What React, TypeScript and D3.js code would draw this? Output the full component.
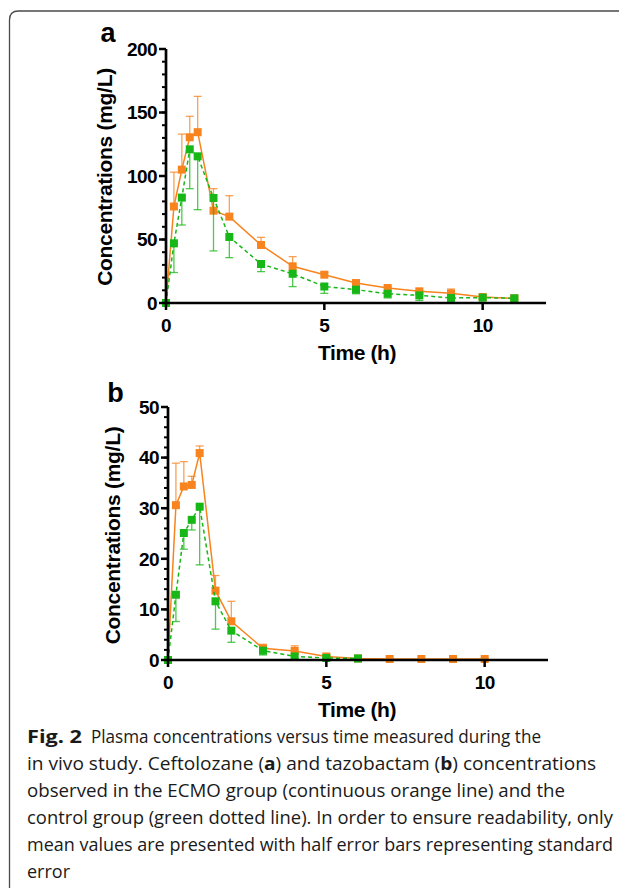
import React, { useRef, useEffect } from 'react';
import * as d3 from 'd3';

// Panel a: ceftolozane
const timesA = [0, 0.25, 0.5, 0.75, 1, 1.5, 2, 3, 4, 5, 6, 7, 8, 9, 10, 11];
const ecmoA = [0, 76, 105, 130.5, 134.5, 72.7, 68, 45.7, 28.9, 22.3, 15.7, 11.8, 9.2, 7.6, 4.7, 3.7];
const ecmoErrA = [0, 103, 133, 147, 162.7, 90, 84.5, 51.7, 36.5, 24, 17, 13, 10, 11, 5.5, 5];
const ctrlA = [0, 47, 83, 121, 115.5, 82.7, 52, 30.7, 23, 13, 10.5, 7.3, 6, 4, 4.2, 3.7];
const ctrlErrA = [0, 24, 61.4, 90, 73.5, 41, 35.7, 24.7, 12.9, 7.6, 7.3, 4, 2, 2, 3, 2.5];

// Panel b: tazobactam
const timesB = [0, 0.25, 0.5, 0.75, 1, 1.5, 2, 3, 4, 5, 6, 7, 8, 9, 10];
const ecmoB = [0, 30.6, 34.3, 34.6, 40.9, 13.7, 7.65, 2.3, 1.8, 0.7, 0.3, 0.2, 0.2, 0.2, 0.2];
const ecmoErrB = [0, 38.9, 39.2, 36.3, 42.3, 16.7, 11.6, 3.1, 2.8, 0.9, 0.4, 0.25, 0.25, 0.25, 0.25];
const timesB2 = [0, 0.25, 0.5, 0.75, 1, 1.5, 2, 3, 4, 5, 6];
const ctrlB = [0, 12.9, 25.1, 27.7, 30.3, 11.6, 5.8, 1.85, 0.7, 0.4, 0.3];
const ctrlErrB = [0, 7.6, 21.9, 25.7, 18.8, 6.1, 3.5, 1.0, 0.3, 0.2, 0.2];

const xTicks = [0, 5, 10];
const yTicksA = [0, 50, 100, 150, 200];
const yTicksB = [0, 10, 20, 30, 40, 50];

const captionLines = [
  'Plasma concentrations versus time measured during the',
  'in vivo study. Ceftolozane (a) and tazobactam (b) concentrations',
  'observed in the ECMO group (continuous orange line) and the',
  'control group (green dotted line). In order to ensure readability, only',
  'mean values are presented with half error bars representing standard',
  'error',
];

const ORANGE = '#f7841f';
const GREEN = '#17b717';

function drawPanel(svg, opt) {
  const { x0, x1, y0, y1, yMax, yTicks, minorStep, letter, letterPos, series } = opt;
  const x = d3.scaleLinear().domain([0, 12]).range([x0, x1]);
  const y = d3.scaleLinear().domain([0, yMax]).range([y0, y1]);
  const g = svg.append('g');
  const font = '"Liberation Sans", Arial, sans-serif';

  // series (orange first, green on top)
  series.forEach(s => {
    const pts = s.t.map((t, i) => [t, s.v[i], s.e[i]]);
    // half error bars
    pts.forEach(([t, v, e]) => {
      if (Math.abs(e - v) < 0.01) return;
      g.append('line')
        .attr('x1', x(t)).attr('x2', x(t))
        .attr('y1', y(v)).attr('y2', y(e))
        .attr('stroke', s.color).attr('stroke-width', 1.3).attr('opacity', 0.75);
      g.append('line')
        .attr('x1', x(t) - 4).attr('x2', x(t) + 4)
        .attr('y1', y(e)).attr('y2', y(e))
        .attr('stroke', s.color).attr('stroke-width', 1.3).attr('opacity', 0.75);
    });
    const line = d3.line().x(d => x(d[0])).y(d => y(d[1]));
    g.append('path')
      .attr('d', line(pts))
      .attr('fill', 'none')
      .attr('stroke', s.color)
      .attr('stroke-width', 1.5)
      .attr('stroke-dasharray', s.dash ? '4,3' : null);
    g.selectAll(null).data(pts).enter().append('rect')
      .attr('x', d => x(d[0]) - 4).attr('y', d => y(d[1]) - 4)
      .attr('width', 8).attr('height', 8)
      .attr('fill', s.color);
  });

  // y axis
  g.append('line').attr('x1', x0).attr('x2', x0).attr('y1', y0 + 1).attr('y2', y1)
    .attr('stroke', '#000').attr('stroke-width', 2.7);
  d3.range(0, yMax + 0.001, minorStep).forEach(v => {
    g.append('line').attr('x1', x0 - 4).attr('x2', x0).attr('y1', y(v)).attr('y2', y(v))
      .attr('stroke', '#000').attr('stroke-width', 2);
  });
  yTicks.forEach(v => {
    g.append('line').attr('x1', x0 - 7).attr('x2', x0).attr('y1', y(v)).attr('y2', y(v))
      .attr('stroke', '#000').attr('stroke-width', 2.5);
    g.append('text').attr('x', x0 - 9).attr('y', y(v)).attr('dy', '0.36em')
      .attr('text-anchor', 'end').attr('font-family', font).attr('font-weight', 'bold')
      .attr('font-size', 19).attr('letter-spacing', -0.6).text(v);
  });

  // x axis
  g.append('line').attr('x1', x0 - 1).attr('x2', x1).attr('y1', y0).attr('y2', y0)
    .attr('stroke', '#000').attr('stroke-width', 2.7);
  xTicks.forEach(t => {
    g.append('line').attr('x1', x(t)).attr('x2', x(t)).attr('y1', y0).attr('y2', y0 + 7)
      .attr('stroke', '#000').attr('stroke-width', 2.5);
    g.append('text').attr('x', x(t)).attr('y', y0 + 29)
      .attr('text-anchor', 'middle').attr('font-family', font).attr('font-weight', 'bold')
      .attr('font-size', 19).attr('letter-spacing', -0.6).text(t);
  });

  g.append('text').attr('x', 357).attr('y', y0 + 57)
    .attr('text-anchor', 'middle').attr('font-family', font).attr('font-weight', 'bold')
    .attr('font-size', 21).attr('letter-spacing', -0.4).text('Time (h)');

  const yMid = (y0 + y1) / 2 + opt.labelShift;
  g.append('text').attr('transform', `translate(${opt.labelX},${yMid}) rotate(-90)`)
    .attr('text-anchor', 'middle').attr('font-family', font).attr('font-weight', 'bold')
    .attr('font-size', 21).attr('letter-spacing', -0.3).text('Concentrations (mg/L)');

  g.append('text').attr('x', letterPos[0]).attr('y', letterPos[1])
    .attr('text-anchor', 'middle').attr('font-family', font).attr('font-weight', 'bold')
    .attr('font-size', 27).text(letter);
}

const App = () => {
  const svgRef = useRef(null);

  useEffect(() => {
    const svg = d3.select(svgRef.current);
    svg.selectAll('*').remove();

    // frame
    svg.append('path')
      .attr('d', 'M 9.5 888 L 9.5 20 Q 9.5 11 18.5 11 L 619 11')
      .attr('fill', 'none').attr('stroke', '#4a4a4a').attr('stroke-width', 1.3);

    drawPanel(svg, {
      x0: 166, x1: 546, y0: 303, y1: 49, yMax: 200, yTicks: yTicksA, minorStep: 10,
      letter: 'a', letterPos: [108, 42], labelX: 112, labelShift: 1,
      series: [
        { t: timesA, v: ecmoA, e: ecmoErrA, color: ORANGE, dash: false },
        { t: timesA, v: ctrlA, e: ctrlErrA, color: GREEN, dash: true },
      ],
    });
    drawPanel(svg, {
      x0: 168, x1: 548, y0: 660, y1: 407, yMax: 50, yTicks: yTicksB, minorStep: 2,
      letter: 'b', letterPos: [115.5, 402], labelX: 120, labelShift: 2,
      series: [
        { t: timesB, v: ecmoB, e: ecmoErrB, color: ORANGE, dash: false },
        { t: timesB2, v: ctrlB, e: ctrlErrB, color: GREEN, dash: true },
      ],
    });

    // caption
    const cap = svg.append('g').attr('font-family', '"Open Sans", "Noto Sans", sans-serif')
      .attr('font-size', 18).attr('fill', '#1a1a1a');
    const widths = [450, 569, 538, 586, 586, 43];
    captionLines.forEach((line, i) => {
      const yb = 743 + i * 27;
      if (i === 0) {
        cap.append('text').attr('x', 27).attr('y', yb).attr('font-weight', 'bold')
          .attr('textLength', 55).attr('lengthAdjust', 'spacingAndGlyphs').text('Fig. 2');
        cap.append('text').attr('x', 91).attr('y', yb)
          .attr('textLength', widths[0]).attr('lengthAdjust', 'spacingAndGlyphs').text(line);
        return;
      }
      const t = cap.append('text').attr('x', 27).attr('y', yb)
        .attr('textLength', widths[i]).attr('lengthAdjust', 'spacingAndGlyphs');
      if (i === 1) {
        t.append('tspan').text('in vivo study. Ceftolozane (');
        t.append('tspan').attr('font-weight', 'bold').text('a');
        t.append('tspan').text(') and tazobactam (');
        t.append('tspan').attr('font-weight', 'bold').text('b');
        t.append('tspan').text(') concentrations');
      } else {
        t.text(line);
      }
    });
  }, []);

  return (
    <svg ref={svgRef} width={619} height={892}
      style={{ position: 'absolute', left: 0, top: 0, background: '#fff' }} />
  );
};

export default App;
